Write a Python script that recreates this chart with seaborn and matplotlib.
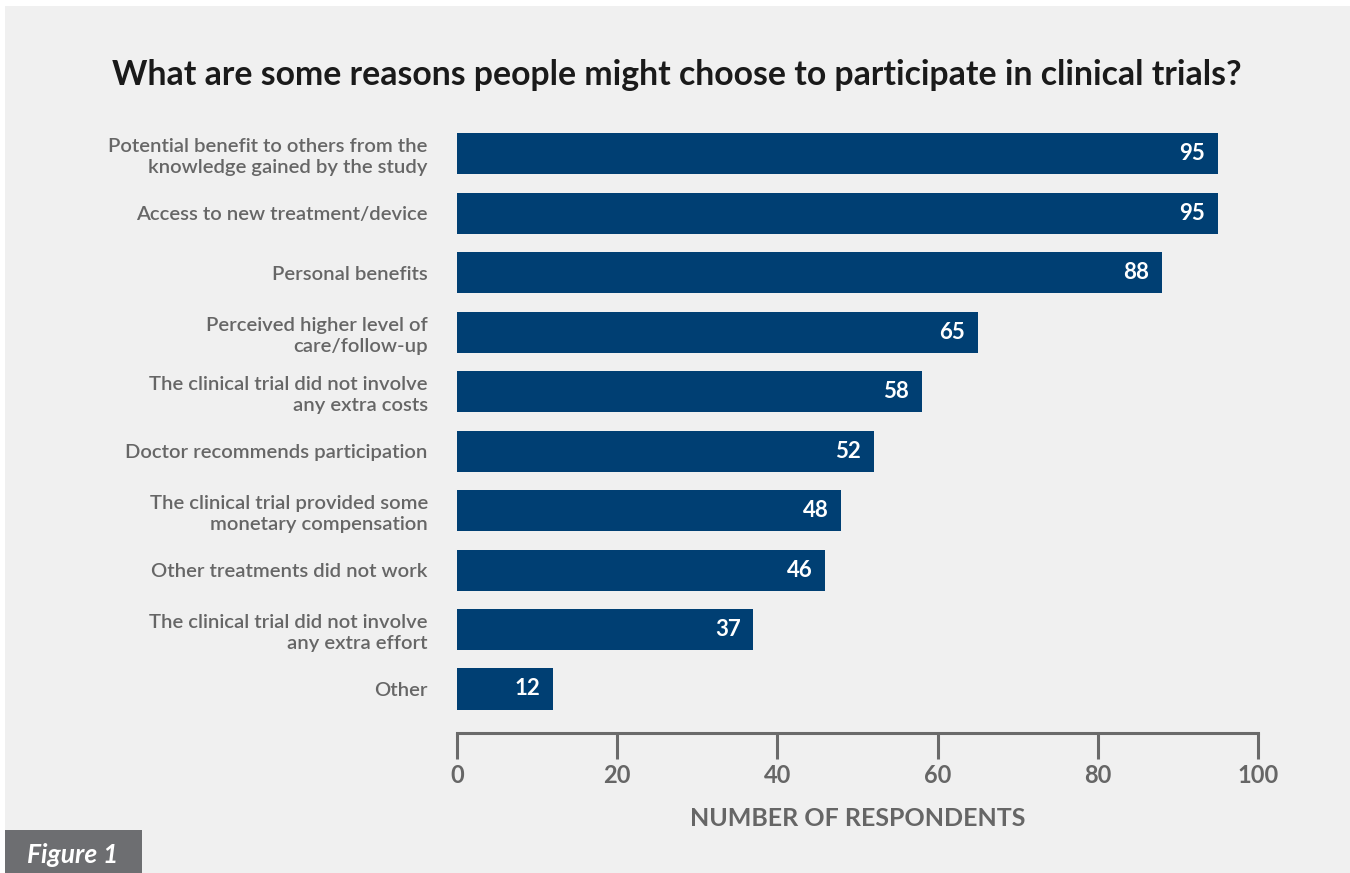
import matplotlib
matplotlib.use("Agg")
import matplotlib.pyplot as plt
import seaborn as sns
import pandas as pd
from matplotlib.patches import Rectangle

categories = [
    "Potential benefit to others from the\nknowledge gained by the study",
    "Access to new treatment/device",
    "Personal benefits",
    "Perceived higher level of\ncare/follow-up",
    "The clinical trial did not involve\nany extra costs",
    "Doctor recommends participation",
    "The clinical trial provided some\nmonetary compensation",
    "Other treatments did not work",
    "The clinical trial did not involve\nany extra effort",
    "Other",
]
values = [95, 95, 88, 65, 58, 52, 48, 46, 37, 12]
xticks = [0, 20, 40, 60, 80, 100]

title = "What are some reasons people might choose to participate in clinical trials?"
xlabel = "NUMBER OF RESPONDENTS"
fig_label = "Figure 1"

BAR = "#003f73"
GRAY_TXT = "#666666"
BG = "#f0f0f0"

sns.set_theme(style="white")
plt.rcParams["font.family"] = ["Lato", "DejaVu Sans"]

df = pd.DataFrame({"reason": categories, "n": values})

fig = plt.figure(figsize=(13.5, 8.73), dpi=100)
fig.patch.set_facecolor("white")
fig.patches.append(Rectangle((5 / 1350, 0), 1, 1 - 6 / 873, transform=fig.transFigure,
                             facecolor=BG, edgecolor="none", zorder=-10))
fig.patches.append(Rectangle((5 / 1350, 0), (142 - 5) / 1350, 43 / 873, transform=fig.transFigure,
                             facecolor="#6d6e71", edgecolor="none", zorder=-5))
fig.text(73 / 1350, 1 - 855 / 873, fig_label, ha="center", va="center", color="white",
         fontsize=19, fontweight="bold", fontstyle="italic")

ax = fig.add_axes([457 / 1350, 1 - 733 / 873, (1258 - 457) / 1350, (733 - 124) / 873])
ax.set_facecolor("none")
sns.barplot(data=df, x="n", y="reason", orient="h", color=BAR, width=0.69,
            saturation=1, linewidth=0, edgecolor="none", ax=ax)

ax.set_xlim(0, 100)
ax.set_ylim(9.74, -0.5)
ax.set_xticks(xticks)
ax.set_xticklabels([str(t) for t in xticks], fontsize=17, fontweight="bold", color=GRAY_TXT)
ax.tick_params(axis="x", bottom=True, direction="out", length=19, width=2.2,
               color="#6a6a6a", pad=3)
ax.tick_params(axis="y", left=False, length=0, pad=21)
for lbl in ax.get_yticklabels():
    lbl.set_fontsize(14.6)
    lbl.set_color(GRAY_TXT)
    lbl.set_fontweight("semibold")
    lbl.set_multialignment("right")
    lbl.set_linespacing(1.3)

for s in ["top", "right", "left"]:
    ax.spines[s].set_visible(False)
ax.spines["bottom"].set_color("#6a6a6a")
ax.spines["bottom"].set_linewidth(2.2)

ax.set_xlabel(xlabel, fontsize=18, fontweight="bold", color=GRAY_TXT, labelpad=15)
ax.set_ylabel("")

for i, v in enumerate(values):
    ax.text(v - 1.6, i, str(v), ha="right", va="center", color="white",
            fontsize=16, fontweight="bold")

fig.text(677 / 1350, 1 - 75 / 873, title, ha="center", va="center", color="#1a1a1a",
         fontsize=24.3, fontweight="bold")

fig.savefig("out.png", dpi=100, facecolor=fig.get_facecolor())
